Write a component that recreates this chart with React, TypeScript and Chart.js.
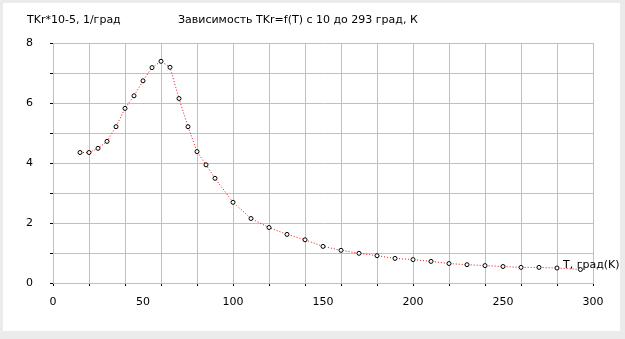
import React, { useEffect, useRef } from "react";
import { Chart, registerables } from "chart.js";

Chart.register(...registerables);

const temperatures = [15, 20, 25, 30, 35, 40, 45, 50, 55, 60, 65, 70, 75, 80, 85, 90, 100, 110, 120, 130, 140, 150, 160, 170, 180, 190, 200, 210, 220, 230, 240, 250, 260, 270, 280, 293];
const tkrValues = [4.35, 4.35, 4.49, 4.72, 5.21, 5.82, 6.24, 6.74, 7.18, 7.39, 7.19, 6.15, 5.21, 4.38, 3.94, 3.49, 2.69, 2.15, 1.85, 1.62, 1.44, 1.22, 1.09, 0.99, 0.91, 0.82, 0.78, 0.72, 0.65, 0.61, 0.58, 0.55, 0.52, 0.52, 0.5, 0.45];

const chartTitle = "Зависимость TKr=f(T) с 10 до 293 град, К";
const yAxisTitle = "TKr*10-5, 1/град";
const xAxisTitle = "T, град(K)";

const FONT = '"DejaVu Sans"';
const FONT_SIZE = 11;

export default function App() {
  const canvasRef = useRef<HTMLCanvasElement | null>(null);

  useEffect(() => {
    const canvas = canvasRef.current;
    if (!canvas) return;

    const textPlugin = {
      id: "texts",
      afterDatasetsDraw(chart: any) {
        const ctx = chart.ctx;
        ctx.save();
        ctx.font = `${FONT_SIZE}px ${FONT}`;
        ctx.fillStyle = "#000";
        ctx.textBaseline = "middle";
        ctx.textAlign = "left";
        ctx.fillText(yAxisTitle, 27, 20.5);
        ctx.fillText(chartTitle, 178, 20.5);
        ctx.fillText(xAxisTitle, 563, 265);
        ctx.restore();
      },
    };

    const chart = new Chart(canvas, {
      type: "scatter",
      data: {
        datasets: [
          {
            data: temperatures.map((t, i) => ({ x: t, y: tkrValues[i] })),
            showLine: true,
            borderColor: "#ff0000",
            borderWidth: 1,
            borderDash: [1, 2],
            tension: 0,
            pointRadius: 2,
            pointBorderWidth: 1,
            pointBorderColor: "#000",
            pointBackgroundColor: "#fff",
            xAxisID: "x",
            yAxisID: "y",
          },
        ],
      },
      options: {
        responsive: false,
        animation: false,
        devicePixelRatio: 1,
        layout: { padding: { left: 0, top: 43, right: 32, bottom: 0 } },
        plugins: {
          legend: { display: false },
          tooltip: { enabled: false },
          title: { display: false },
        },
        scales: {
          x: {
            type: "linear",
            position: "bottom",
            min: 0,
            max: 300,
            ticks: { display: false, stepSize: 20 },
            grid: { color: "#c0c0c0", tickLength: 3, tickColor: "#000" },
            border: { color: "#c0c0c0" },
            afterFit: (s: any) => {
              s.height = 0;
            },
          },
          x2: {
            type: "linear",
            position: "bottom",
            min: 0,
            max: 300,
            ticks: {
              stepSize: 50,
              padding: 13,
              color: "#000",
              font: { family: FONT, size: FONT_SIZE },
              maxRotation: 0,
            },
            grid: { display: false, drawTicks: false },
            border: { display: false },
            afterFit: (s: any) => {
              s.height = 56;
            },
          },
          y: {
            type: "linear",
            min: 0,
            max: 8,
            ticks: {
              stepSize: 1,
              padding: 17,
              color: "#000",
              font: { family: FONT, size: FONT_SIZE },
              callback: (v: any) => (Number(v) % 2 === 0 ? String(v) : ""),
            },
            grid: { color: "#c0c0c0", tickLength: 3, tickColor: "#000" },
            border: { color: "#c0c0c0" },
            afterFit: (s: any) => {
              s.width = 53;
            },
          },
        },
      },
      plugins: [textPlugin],
    } as any);

    return () => {
      chart.destroy();
    };
  }, []);

  return (
    <div
      style={{
        position: "absolute",
        left: 0,
        top: 0,
        width: 625,
        height: 339,
        background: "#ebebeb",
      }}
    >
      <div
        style={{
          position: "absolute",
          left: 3,
          top: 3,
          width: 617,
          height: 328,
          background: "#ffffff",
        }}
      />
      <canvas
        ref={canvasRef}
        width={625}
        height={339}
        style={{ position: "absolute", left: 0, top: 0, width: 625, height: 339 }}
      />
    </div>
  );
}
